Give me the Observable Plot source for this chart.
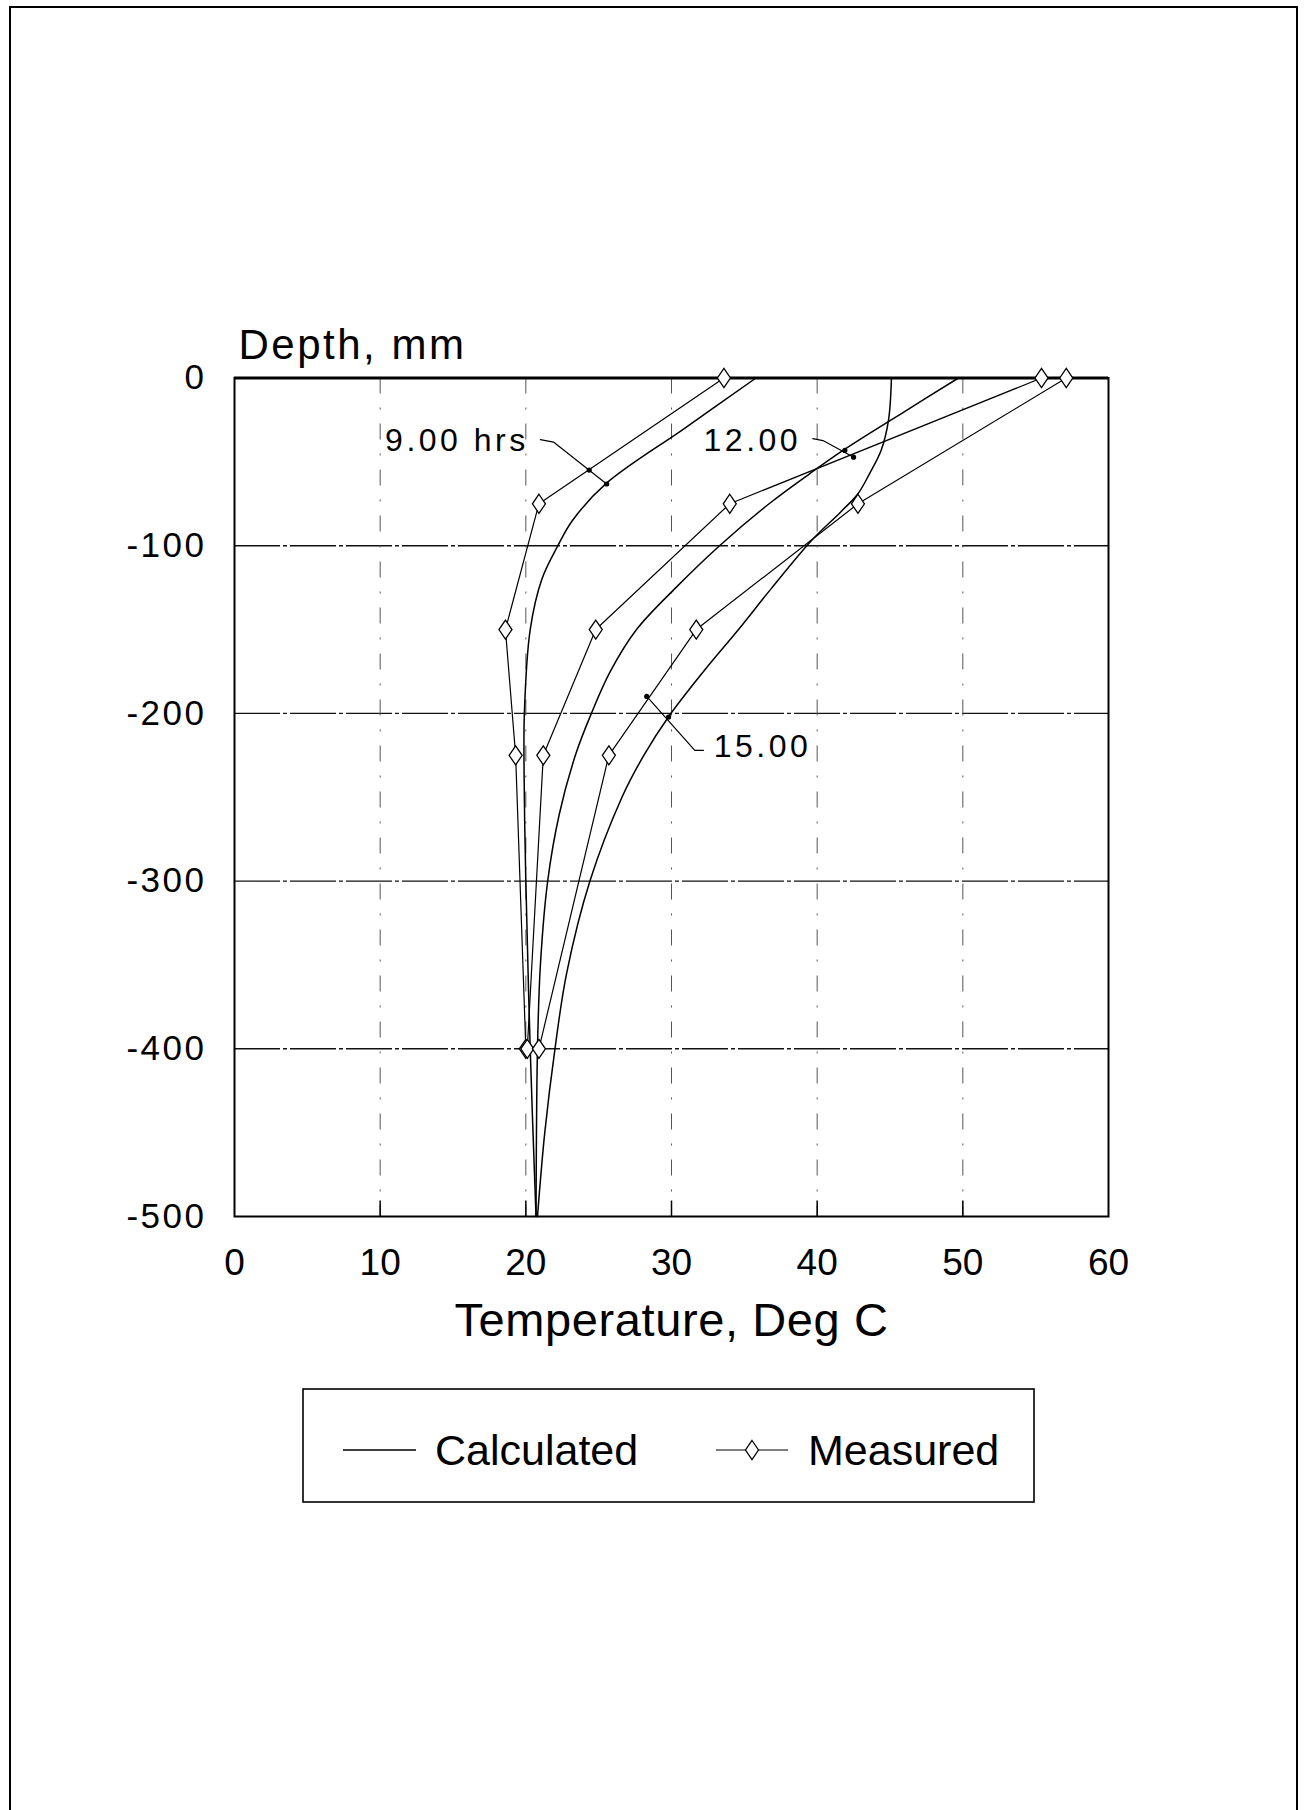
<!DOCTYPE html>
<html><head><meta charset="utf-8">
<script src="https://cdn.jsdelivr.net/npm/d3@7"></script>
<script src="https://cdn.jsdelivr.net/npm/@observablehq/plot@0.6"></script>
<style>
html,body{margin:0;padding:0;background:#fff;}
body{width:1308px;height:1810px;overflow:hidden;position:relative;font-family:"Liberation Sans",Arial,Helvetica,sans-serif;}
#frame{position:absolute;left:9px;top:6px;width:1289px;height:1830px;border:2px solid #000;border-bottom:none;box-sizing:border-box;}
#chart{position:absolute;left:0;top:0;}
#legend{position:absolute;left:302px;top:1388px;width:733px;height:115px;}
</style>
</head><body>
<div id="frame"></div>
<div id="chart"></div>
<div id="legend"></div>
<script>
// ---- axis ticks ----
const tempTicks = [0, 10, 20, 30, 40, 50, 60];
const depthTicks = [0, -100, -200, -300, -400, -500];
const gridTemps = [10, 20, 30, 40, 50];
const gridDepths = [-100, -200, -300, -400];

// ---- Calculated profiles (depth mm, temperature °C) ----
const calcDepth9  = [0, -30, -63, -85, -100, -120, -150, -200, -250, -300, -400, -500];
const calcTemp9   = [35.8, 30.9, 25.5, 23.2, 22.2, 21.1, 20.3, 19.9, 19.9, 20.0, 20.3, 20.7];
const calcDepth12 = [0, -20, -43, -57, -75, -100, -125, -150, -175, -200, -225, -260, -300, -350, -400, -500];
const calcTemp12  = [49.7, 46.0, 41.8, 39.5, 36.7, 33.3, 30.3, 27.6, 25.8, 24.5, 23.4, 22.3, 21.5, 21.0, 20.8, 20.7];
const calcDepth15 = [0, -25, -43, -57, -69, -80, -97, -125, -150, -175, -202, -225, -250, -300, -355, -400, -450, -500];
const calcTemp15  = [45.1, 44.9, 44.4, 43.6, 42.8, 41.6, 39.6, 36.9, 34.6, 32.2, 29.8, 28.1, 26.6, 24.4, 22.8, 22.0, 21.3, 20.8];

// ---- Measured profiles ----
const measDepth   = [0, -75, -150, -225, -400];
const measTemp9   = [33.6, 20.9, 18.6, 19.3, 20.0];
const measTemp12  = [55.4, 34.0, 24.8, 21.2, 20.1];
const measTemp15  = [57.1, 42.8, 31.7, 25.7, 20.9];

// ---- Curve labels and leader lines ----
const labelTexts  = ["9.00 hrs", "12.00", "15.00"];
const labelTemp   = [20.2, 38.9, 32.9];
const labelDepth  = [-37.3, -37.3, -220.1];
const labelAnchor = ["end", "end", "start"];
const leaderTemp  = [[21.0, 21.9, 25.55], [39.7, 40.4, 42.5], [32.2, 31.6, 28.3]];
const leaderDepth = [[-36.8, -38.2, -63.2], [-36.2, -37.3, -47.2], [-222, -222, -189.9]];
const leaderDotTemp  = [24.35, 25.55, 41.9, 42.5, 28.3, 29.8];
const leaderDotDepth = [-54.9, -63.2, -43.2, -47.2, -189.9, -202.2];

// ---- text ----
const yAxisTitle = "Depth, mm";
const xAxisTitle = "Temperature, Deg C";
const legendNames = ["Calculated", "Measured"];

// build tables
const calcRows = [];
[[9, calcDepth9, calcTemp9], [12, calcDepth12, calcTemp12], [15, calcDepth15, calcTemp15]].forEach(([s, ds, ts]) =>
  ds.forEach((d, i) => calcRows.push({series: s, d, t: ts[i]})));
const measRows = [];
[[9, measTemp9], [12, measTemp12], [15, measTemp15]].forEach(([s, ts]) =>
  measDepth.forEach((d, i) => measRows.push({series: s, d, t: ts[i]})));
const labelRows = labelTexts.map((txt, i) => ({txt, t: labelTemp[i], d: labelDepth[i], anchor: labelAnchor[i]}));
const leaderRows = [];
leaderTemp.forEach((ts, k) => ts.forEach((t, i) => leaderRows.push({k, t, d: leaderDepth[k][i]})));
const leaderDots = leaderDotTemp.map((t, i) => ({t, d: leaderDotDepth[i]}));

const tallDiamond = {
  draw(ctx, size) {
    const r = Math.sqrt(size / Math.PI);
    const w = r * 0.93, h = r * 1.36;
    ctx.moveTo(0, -h); ctx.lineTo(w, 0); ctx.lineTo(0, h); ctx.lineTo(-w, 0); ctx.closePath();
  }
};

const font = "Liberation Sans, Arial, Helvetica, sans-serif";
const chart = Plot.plot({
  width: 1308, height: 1350,
  marginLeft: 234, marginRight: 200, marginTop: 377.5, marginBottom: 134,
  style: {fontFamily: font, background: "none", color: "#000", overflow: "visible"},
  x: {domain: [0, 60]},
  y: {domain: [-500, 0]},
  marks: [
    Plot.ruleY(gridDepths, {stroke: "#111", strokeWidth: 1.4, strokeDasharray: "46,3,4,3"}),
    Plot.ruleX(gridTemps, {stroke: "#555", strokeWidth: 1, strokeDasharray: "16,14,2,14"}),
    Plot.tickX(gridTemps, {x: d => d, insetTop: 823, stroke: "#000", strokeWidth: 1.5}),
    Plot.frame({stroke: "#000", strokeWidth: 2}),
    Plot.ruleY([0], {stroke: "#000", strokeWidth: 3}),
    Plot.axisX({ticks: tempTicks, tickSize: 0, tickPadding: 32, fontSize: 37, label: null}),
    Plot.axisY({ticks: depthTicks, tickSize: 0, tickPadding: 28, fontSize: 35, label: null,
      tickFormat: d => d === 0 ? "0" : "-" + Math.abs(d)}),
    Plot.line(calcRows, {x: "t", y: "d", z: "series", curve: "catmull-rom", stroke: "#000", strokeWidth: 1.5}),
    Plot.line(measRows, {x: "t", y: "d", z: "series", stroke: "#000", strokeWidth: 1.2}),
    Plot.dot(measRows, {x: "t", y: "d", symbol: tallDiamond, r: 7, fill: "#fff", stroke: "#000", strokeWidth: 1.3}),
    Plot.line(leaderRows, {x: "t", y: "d", z: "k", stroke: "#000", strokeWidth: 1.2}),
    Plot.dot(leaderDots, {x: "t", y: "d", r: 2.6, fill: "#000"}),
    Plot.text(labelRows.filter(r => r.anchor === "end"), {x: "t", y: "d", text: "txt", textAnchor: "end", fontSize: 32}),
    Plot.text(labelRows.filter(r => r.anchor === "start"), {x: "t", y: "d", text: "txt", textAnchor: "start", fontSize: 32}),
    Plot.text([yAxisTitle], {text: d => d, frameAnchor: "top-left", textAnchor: "start", lineAnchor: "middle", dx: 4, dy: -32, fontSize: 42}),
    Plot.text([xAxisTitle], {text: d => d, frameAnchor: "bottom", lineAnchor: "middle", dy: 104, fontSize: 47})
  ]
});
document.getElementById("chart").appendChild(chart);

// letter spacing tweaks
d3.select(chart).selectAll('g[aria-label="y-axis tick label"] text').style("letter-spacing", "2.5px");
d3.select(chart).selectAll('g[aria-label="text"] text').each(function() {
  const t = this.textContent;
  if (t === yAxisTitle) d3.select(this).style("letter-spacing", "2.5px");
  else if (t === xAxisTitle) d3.select(this).style("letter-spacing", "0.6px");
  else d3.select(this).style("letter-spacing", "3.5px");
});

// ---- legend (below the chart) ----
const lg = d3.select("#legend").append("svg").attr("width", 733).attr("height", 115)
  .style("font-family", font);
lg.append("rect").attr("x", 1).attr("y", 1).attr("width", 731).attr("height", 113)
  .attr("fill", "#fff").attr("stroke", "#000").attr("stroke-width", 1.6);
lg.append("line").attr("x1", 41).attr("x2", 114).attr("y1", 62).attr("y2", 62).attr("stroke", "#000").attr("stroke-width", 1.5);
lg.append("text").attr("x", 133).attr("y", 62).attr("dy", "0.35em").attr("font-size", 43).text(legendNames[0]);
lg.append("line").attr("x1", 414).attr("x2", 486).attr("y1", 62).attr("y2", 62).attr("stroke", "#000").attr("stroke-width", 1.2);
lg.append("path").attr("transform", "translate(450,62)")
  .attr("d", "M0,-9.5L6.5,0L0,9.5L-6.5,0Z").attr("fill", "#fff").attr("stroke", "#000").attr("stroke-width", 1.3);
lg.append("text").attr("x", 506).attr("y", 62).attr("dy", "0.35em").attr("font-size", 43).text(legendNames[1]);
</script>
</body></html>
